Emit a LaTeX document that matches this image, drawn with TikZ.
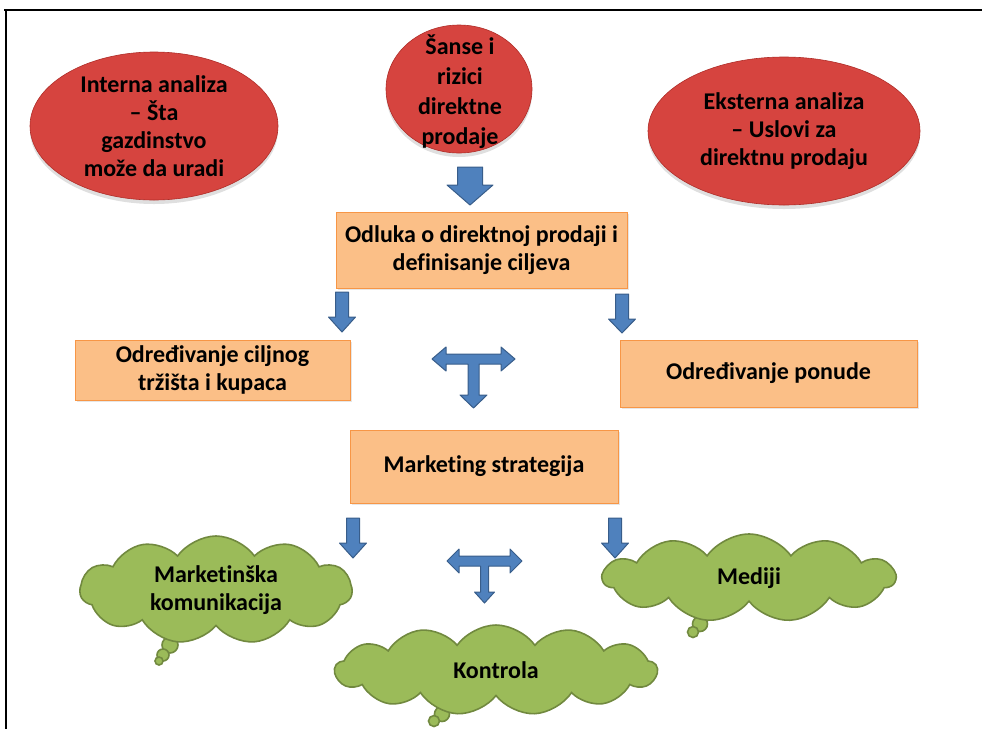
\documentclass[tikz,border=0pt]{standalone}
\usepackage{fontspec}
\setmainfont{Carlito}[Ligatures=NoCommon]
\usetikzlibrary{shapes.geometric,shapes.symbols,shadows}
\definecolor{redfill}{RGB}{214,68,63}
\definecolor{redline}{RGB}{175,45,40}
\definecolor{boxfill}{RGB}{251,191,135}
\definecolor{boxline}{RGB}{247,150,70}
\definecolor{arrfill}{RGB}{79,129,189}
\definecolor{arrline}{RGB}{56,93,138}
\definecolor{cloudfill}{RGB}{155,187,89}
\definecolor{cloudline}{RGB}{113,137,63}
\begin{document}
\begin{tikzpicture}[x=1pt,y=-1pt,
  txt/.style={font=\fontsize{24}{28}\selectfont\bfseries, align=center, text=black},
  oval/.style={ellipse, txt, fill=redfill, draw=redline, line width=0.6pt, inner sep=0pt,
    drop shadow={shadow xshift=0pt, shadow yshift=-4pt, opacity=0.25}},
  stepbox/.style={rectangle, txt, fill=boxfill, draw=boxline, line width=1pt, inner sep=0pt,
    drop shadow={shadow xshift=2pt, shadow yshift=-2pt, opacity=0.2}},
  thought/.style={cloud, txt, fill=cloudfill, draw=cloudline, line width=1.6pt,
    cloud puffs=11, cloud puff arc=110, inner sep=0pt},
  bubble/.style={circle, fill=cloudfill, draw=cloudline, line width=1.6pt, inner sep=0pt},
  blk/.style={fill=arrfill, draw=arrline, line width=1pt, line join=round}]
\useasboundingbox (0,0) rectangle (982,729);
% frame
\draw[line width=2.5pt] (4,10) -- (982,10);
\draw[line width=2.5pt] (6,9) -- (6,729);

% ovals
\node[oval, minimum width=248, minimum height=148] (intern) at (154,126)
  {Interna analiza\\– Šta\\gazdinstvo\\može da uradi};
\node[oval, minimum width=146, minimum height=128, inner ysep=-12pt, font=\fontsize{24}{30}\selectfont\bfseries] (sanse) at (459,89)
  {};
\node[txt, font=\fontsize{24}{30}\selectfont\bfseries, inner sep=0pt] (sansetxt) at (460,92)
  {Šanse i\\rizici\\direktne\\prodaje};
\node[oval, minimum width=272, minimum height=148] (ekstern) at (784,131)
  {Eksterna analiza\\– Uslovi za\\direktnu prodaju};

% boxes
\node[stepbox, minimum width=291, minimum height=76] (odluka) at (481.5,250)
  {Odluka o direktnoj prodaji i\\definisanje ciljeva};
\node[stepbox, minimum width=275, minimum height=60] (trziste) at (212.5,370)
  {Određivanje ciljnog\\tržišta i kupaca};
\node[stepbox, minimum width=297, minimum height=67] (ponuda) at (768.5,373.5)
  {Određivanje ponude};
\node[stepbox, minimum width=268, minimum height=73] (strat) at (484,466.5)
  {Marketing strategija};

% thought-bubble tails
\node[bubble, minimum size=16] (t1a) at (170,645) {};
\node[bubble, minimum size=12] (t1b) at (163,655) {};
\node[bubble, minimum size=8] (t1c) at (159,661) {};
\node[bubble, minimum size=15] (t2a) at (700,624) {};
\node[bubble, minimum size=11] (t2b) at (693,632) {};
\node[bubble, minimum size=15] (t3a) at (442,714) {};
\node[bubble, minimum size=11] (t3b) at (434,721) {};

% clouds
\node[thought, aspect=2.5, minimum width=272, minimum height=108] (komun) at (216,590)
  {Marketinška\\komunikacija};
\node[thought, aspect=3.3, minimum width=292, minimum height=88] (mediji) at (749,578)
  {Mediji};
\node[thought, aspect=3.6, cloud puffs=13, minimum width=322, minimum height=90] (kontrola) at (496,670)
  {Kontrola};

% block arrows (down)
\draw[blk] (457.5,167) -- (482.5,167) -- (482.5,185) -- (493,185) -- (470,205) -- (447,185) -- (457.5,185) -- cycle;
\draw[blk] (335.5,292) -- (348.5,292) -- (348.5,317) -- (355.5,317) -- (342,332) -- (328.5,317) -- (335.5,317) -- cycle;
\draw[blk] (615.5,294) -- (628.5,294) -- (628.5,319) -- (635.5,319) -- (622,333) -- (608.5,319) -- (615.5,319) -- cycle;
\draw[blk] (346.5,518) -- (359.5,518) -- (359.5,543) -- (366.5,543) -- (353,558) -- (339.5,543) -- (346.5,543) -- cycle;
\draw[blk] (608.5,518) -- (621.5,518) -- (621.5,543) -- (628.5,543) -- (615,558) -- (601.5,543) -- (608.5,543) -- cycle;

% T arrows
\draw[blk] (432,359) -- (446,347) -- (446,354) -- (501,354) -- (501,347) -- (515,359) -- (501,371) -- (501,364)
  -- (479,364) -- (479,395) -- (487,395) -- (473.5,408) -- (460,395) -- (468,395) -- (468,364)
  -- (446,364) -- (446,371) -- cycle;
\draw[blk] (447,561) -- (459,549) -- (459,556) -- (510,556) -- (510,549) -- (522,561) -- (510,573) -- (510,566)
  -- (488.5,566) -- (488.5,592) -- (494.5,592) -- (484.5,603) -- (474.5,592) -- (480.5,592) -- (480.5,566)
  -- (459,566) -- (459,573) -- cycle;
\end{tikzpicture}
\end{document}
